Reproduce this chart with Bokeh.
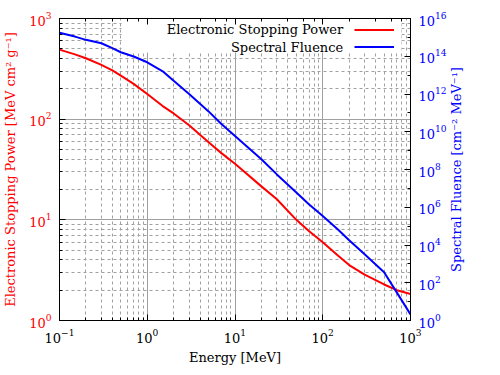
import math
import numpy as np
from bokeh.plotting import figure
from bokeh.models import (Range1d, LogScale, LogAxis, LogTicker, FixedTicker, Label,
                          BoxAnnotation, Legend, LegendItem)
from bokeh.core.properties import value
from bokeh.embed import file_html
from bokeh.resources import INLINE

# ---- data ----
energy = [0.1, 0.15, 0.2, 0.3, 0.4, 0.5, 0.7, 1, 1.5, 2, 3, 5, 7, 10,
          20, 30, 50, 70, 100, 150, 200, 300, 500, 700, 1000]
stopping_power = [491, 440, 403, 346, 305, 271, 224, 178, 135, 114, 87, 59,
                  46, 36, 21.5, 16, 10, 7.7, 6.0, 4.4, 3.55, 2.85, 2.28, 2.0, 1.83]
fluence = [1.75e15, 1.1e15, 7.4e14, 4.9e14, 2.7e14, 1.63e14, 9.7e13, 4.8e13,
           1.6e13, 5.0e12, 1.0e12, 1.2e11, 2.6e10, 6e9, 3.5e8, 5.5e7, 6e6,
           1.4e6, 3.4e5, 6.5e4, 1.8e4, 3.2e3, 360, 30, 2.1]

flu_ticks = [1e0, 1e2, 1e4, 1e6, 1e8, 1e10, 1e12, 1e14, 1e16]
flu_minor = [1e1, 1e3, 1e5, 1e7, 1e9, 1e11, 1e13, 1e15]

series_names = ["Electronic Stopping Power", "Spectral Fluence"]
x_label = "Energy [MeV]"
y_label = "Electronic Stopping Power [MeV cm\u00b2 g\u207b\u00b9]"
y2_label = "Spectral Fluence [cm\u207b\u00b2 MeV\u207b\u00b9]"

FONT = "DejaVu Serif"
RED = "#ff0000"
BLUE = "#0000ff"

p = figure(width=480, height=372, x_axis_type="log", y_axis_type="log",
           x_range=Range1d(0.1, 1000), y_range=Range1d(1, 1000),
           output_backend="svg", toolbar_location=None,
           min_border_left=58, min_border_right=70, min_border_top=18,
           min_border_bottom=52, background_fill_color="white",
           border_fill_color="white")
p.extra_y_ranges = {"flu": Range1d(1, 1e16)}
p.extra_y_scales = {"flu": LogScale()}
p.outline_line_color = "black"
p.outline_line_width = 1

r1 = p.line(energy, stopping_power, line_color=RED, line_width=2)
r2 = p.line(energy, fluence, line_color=BLUE, line_width=2, y_range_name="flu")

def style_axis(ax, color):
    ax.axis_line_color = "black"
    ax.major_tick_line_color = "black"
    ax.minor_tick_line_color = "black"
    ax.major_tick_in = 6
    ax.major_tick_out = 0
    ax.minor_tick_in = 3
    ax.minor_tick_out = 0
    ax.major_label_text_font = FONT
    ax.major_label_text_font_size = "13px"
    ax.major_label_text_color = color
    ax.axis_label_text_font = FONT
    ax.axis_label_text_font_size = "13px"
    ax.axis_label_text_font_style = "normal"
    ax.axis_label_text_color = color

xax = p.xaxis[0]
style_axis(xax, "black")
xax.axis_label = x_label
xax.major_label_standoff = 8
xax.axis_label_standoff = 4

yax = p.yaxis[0]
style_axis(yax, RED)
yax.axis_label = y_label
yax.major_label_standoff = 8
yax.axis_label_standoff = 8

ax_r = LogAxis(y_range_name="flu",
               ticker=FixedTicker(ticks=flu_ticks, minor_ticks=flu_minor))
style_axis(ax_r, BLUE)
ax_r.major_label_standoff = 8
p.add_layout(ax_r, "right")

# right axis title, reading bottom-to-top like the reference
p.add_layout(Label(x=7, y=151, x_units="screen", y_units="screen",
                   text=y2_label, angle=math.pi / 2, text_align="center",
                   text_baseline="middle", text_font=FONT,
                   text_font_size="13px", text_color=BLUE), "right")

ax_t = LogAxis(ticker=LogTicker())
style_axis(ax_t, "black")
ax_t.major_label_text_font_size = "1px"
ax_t.major_label_text_alpha = 0
ax_t.major_label_standoff = 0
p.add_layout(ax_t, "above")

for g in (p.xgrid[0], p.ygrid[0]):
    g.grid_line_color = "#a0a0a0"
    g.grid_line_width = 1
    g.minor_grid_line_color = "#a0a0a0"
    g.minor_grid_line_dash = "3 3"
    g.level = "image"

# white key background
key_bg = BoxAnnotation(left=62, right=342, top=302, bottom=268,
                       left_units="screen", right_units="screen",
                       top_units="screen", bottom_units="screen",
                       fill_color="white", fill_alpha=1.0, line_alpha=0,
                       level="underlay")
p.add_layout(key_bg)

legend = Legend(items=[LegendItem(label=value("\u00a0"), renderers=[r1]),
                       LegendItem(label=value("\u00a0"), renderers=[r2])],
                location=(295, 265), glyph_width=40, glyph_height=17,
                label_height=17, label_standoff=0,
                spacing=0, padding=0, margin=0, border_line_alpha=0,
                background_fill_alpha=0, label_text_font_size="13px")
p.add_layout(legend)

for name, ly in zip(series_names, [290.7, 273.3]):
    p.add_layout(Label(x=283.7, y=ly, x_units="screen", y_units="screen",
                       text=name, text_align="right", text_baseline="middle",
                       text_font=FONT, text_font_size="13px",
                       text_color="black"))

open("out.html", "w").write(file_html(p, INLINE))
